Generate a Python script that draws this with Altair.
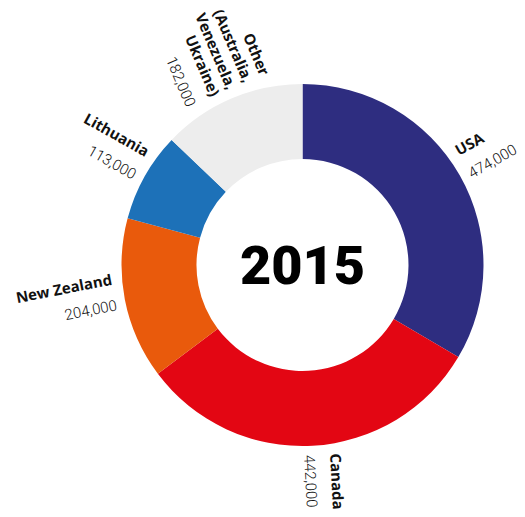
import altair as alt
import pandas as pd

categories = ["USA", "Canada", "New Zealand", "Lithuania", "Other"]
name_lines = [["USA"], ["Canada"], ["New Zealand"], ["Lithuania"],
              ["Other", "(Australia,", "Venezuela,", "Ukraine)"]]
values = [474000, 442000, 204000, 113000, 182000]
colors = ["#2e2d80", "#e30613", "#e95a0c", "#1d71b8", "#ededed"]
center_label = "2015"

df = pd.DataFrame({
    "category": categories,
    "name": ["\n".join(l) for l in name_lines],
    "n_lines": [len(l) for l in name_lines],
    "value": values,
    "idx": list(range(len(categories))),
})

W, H = 389, 414
LINE_GAP = 18      # spacing between name lines
NAME_NUM_GAP = 26  # spacing between last name line and the number

base = alt.Chart(df)

arcs = base.mark_arc(innerRadius=106, outerRadius=181).encode(
    theta=alt.Theta("value:Q", stack=True),
    color=alt.Color("category:N", scale=alt.Scale(domain=categories, range=colors), legend=None),
    order=alt.Order("idx:Q"),
)

lab = (
    base.transform_window(cum="sum(value)", sort=[alt.SortField("idx")])
    .transform_joinaggregate(total="sum(value)")
    .transform_calculate(
        mid="datum.cum - datum.value / 2",
        label_value="format(datum.value, ',')",
    )
    .transform_calculate(mid_deg="datum.mid / datum.total * 360")
    .transform_calculate(
        rot="datum.mid_deg < 180 ? (datum.mid_deg + 270) % 360 : (datum.mid_deg + 90) % 360"
    )
)


def text_layer(right, n, field, font, weight, dy, size):
    cond = ("datum.mid_deg < 180" if right else "datum.mid_deg >= 180") + f" && datum.n_lines == {n}"
    return lab.transform_filter(cond).mark_text(
        radius=190,
        align="left" if right else "right",
        baseline="alphabetic",
        dy=dy,
        font=font,
        fontWeight=weight,
        fontSize=size,
        lineBreak="\n",
        lineHeight=LINE_GAP,
        color="#111111",
    ).encode(
        theta=alt.Theta("mid:Q", stack=False),
        angle=alt.Angle("rot:Q", scale=None),
        text=alt.Text(f"{field}:N"),
    )


layers = [arcs]
for n in sorted(set(df["n_lines"])):
    num_dy = 9 + 12 * (n - 1)
    name_dy = num_dy - NAME_NUM_GAP - (n - 1) * LINE_GAP
    for right in (True, False):
        layers.append(text_layer(right, n, "name", "Open Sans", "bold", name_dy, 15))
        layers.append(text_layer(right, n, "label_value", "Roboto", 300, num_dy, 15))

center = alt.Chart(pd.DataFrame({"t": [center_label]})).mark_text(
    font="Roboto", fontWeight=900, fontSize=54, baseline="alphabetic", dy=19, color="#000000"
).encode(text="t:N", x=alt.value(W / 2), y=alt.value(H / 2))
layers.append(center)

chart = alt.layer(*layers).properties(
    width=W,
    height=H,
    autosize=alt.AutoSizeParams(type="none"),
    padding={"left": 100, "top": 50, "right": 20, "bottom": 37},
).configure_view(stroke=None)

chart.save("out.html", embed_options={"renderer": "svg", "actions": False})
